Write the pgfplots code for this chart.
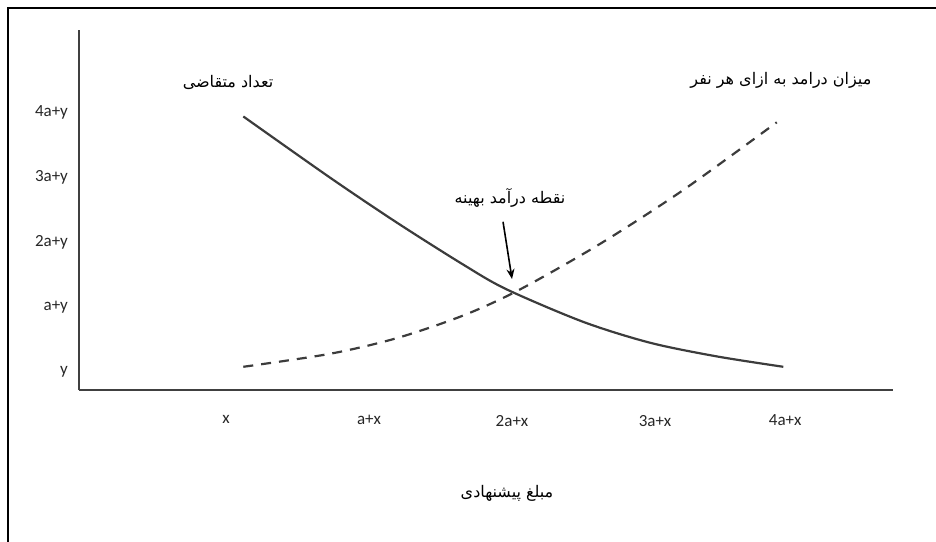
\documentclass[border=0pt]{standalone}
\usepackage{fontspec}
\setmainfont{Carlito}
\newfontfamily\arabicfont[Script=Arabic]{DejaVu Sans}
\TeXXeTstate=1
\usepackage{pgfplots}
\pgfplotsset{compat=1.18}
\usetikzlibrary{arrows.meta}
\definecolor{curve}{RGB}{60,60,60}
\begin{document}
\begin{tikzpicture}
\useasboundingbox (0,0) rectangle (468pt,270.5pt);
\draw[line width=1pt, black] (4pt,-5pt) -- (4pt,266.5pt) -- (475pt,266.5pt);
\begin{axis}[
  at={(39.5pt,75.5pt)}, anchor=south west,
  scale only axis, width=407pt, height=180pt,
  xmin=-1.028, xmax=4.664, ymin=-0.277, ymax=5.26,
  axis x line=bottom, axis y line=left,
  axis line style={-, line width=0.8pt, black!75},
  major tick length=0pt,
  xtick={0,1,2,3,3.91}, xticklabels={x,a+x,2a+x,3a+x,4a+x},
  ytick={0,1,2,3,4}, yticklabels={y,a+y,2a+y,3a+y,4a+y},
  tick label style={font=\fontsize{8.5pt}{10pt}\selectfont, text=black!85},
  xticklabel style={yshift=-9pt},
  yticklabel style={xshift=-2pt},
  clip=false,
]
\addplot[curve, line width=1.1pt, smooth] coordinates {
 (0.121,3.93) (0.727,2.99) (1.193,2.30) (1.660,1.65) (1.963,1.27)
 (2.499,0.77) (2.965,0.45) (3.431,0.24) (3.897,0.08)};
\addplot[curve, line width=1.1pt, smooth, dash pattern=on 5pt off 4pt] coordinates {
 (0.121,0.08) (0.727,0.28) (1.193,0.52) (1.660,0.87) (2.056,1.27)
 (2.615,1.97) (3.198,2.80) (3.851,3.84)};
\draw[-{Stealth[length=5pt,width=4pt]}, line width=0.8pt, black] (axis cs:1.937,2.31) -- (axis cs:2.0,1.43);
\node[font=\fontsize{8pt}{10pt}\arabicfont] at (axis cs:0.014,4.45) {\beginR تعداد متقاضی\endR};
\node[font=\fontsize{8pt}{10pt}\arabicfont] at (axis cs:3.88,4.49) {\beginR میزان درامد به ازای هر نفر\endR};
\node[font=\fontsize{8pt}{10pt}\arabicfont] at (axis cs:1.986,2.68) {\beginR نقطه درآمد بهینه\endR};
\node[font=\fontsize{8pt}{10pt}\arabicfont] at (axis cs:1.965,-1.86) {\beginR مبلغ پیشنهادی\endR};
\end{axis}
\end{tikzpicture}
\end{document}
